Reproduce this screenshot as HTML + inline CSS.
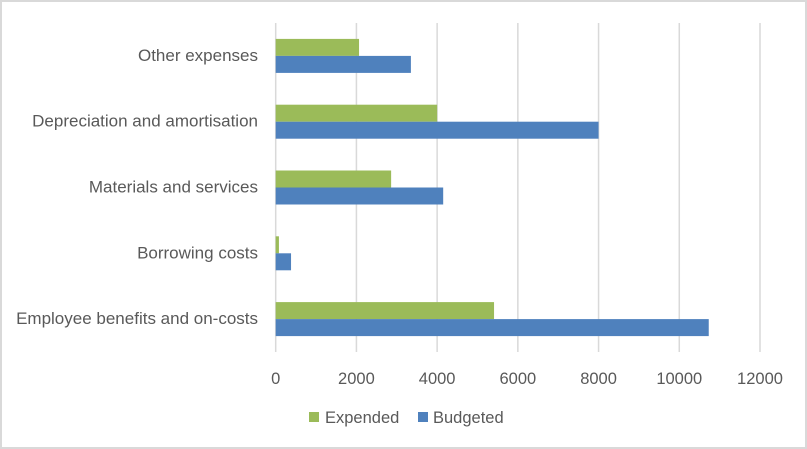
<!DOCTYPE html>
<html><head><meta charset="utf-8"><style>
body{margin:0;background:#fff}
#c{position:relative;width:807px;height:449px;box-sizing:border-box;border:2px solid #d9d9d9;background:#fff;overflow:hidden}
svg text{font-family:"Liberation Sans",sans-serif;fill:#595959;font-size:16.5px}
svg text.cat{font-size:17px}
</style></head><body>
<div id="c">
<svg id="s" width="807" height="449" style="position:absolute;left:-2px;top:-2px"></svg>
</div>
<script>
const categories=["Employee benefits and on-costs","Borrowing costs","Materials and services","Depreciation and amortisation","Other expenses"];
const expended=[5410,80,2860,4000,2065];
const budgeted=[10730,380,4150,8000,3350];
const ticks=[0,2000,4000,6000,8000,10000,12000];
const NS="http://www.w3.org/2000/svg";
const svgEl=document.getElementById('s');
const x0=275.7,x1=760,yTop=23,yBot=352,xmax=12000;
const xs=v=>x0+(x1-x0)*v/xmax;
const band=(yBot-yTop)/categories.length;
const yc=i=>yBot-band*(i+0.5);
function mk(t,a){const e=document.createElementNS(NS,t);for(const k in a)e.setAttribute(k,a[k]);svgEl.appendChild(e);return e;}
ticks.forEach((t)=>{
 const g=mk('line',{x1:xs(t),x2:xs(t),y1:yTop,y2:yBot,stroke:'#d9d9d9','stroke-width':1.5});
 
 
 const l=mk('text',{x:xs(t),y:384,'text-anchor':'middle'});l.textContent=t;
 
 
});
const bh=17;
categories.forEach((c,i)=>{
 const y=yc(i);
 const l=mk('text',{x:258,y:y+5,'text-anchor':'end','class':'cat'});l.textContent=c;
 
 
 const g=mk('rect',{x:x0,y:y-bh,width:xs(expended[i])-x0,height:bh,fill:'#9bbb59'});
 
 
 const b=mk('rect',{x:x0,y:y,width:xs(budgeted[i])-x0,height:bh,fill:'#4f81bd'});
 
 
});
let r=mk('rect',{x:309,y:412,width:10,height:10,fill:'#9bbb59'});


let tx=mk('text',{x:325,y:423});tx.textContent='Expended';


r=mk('rect',{x:418,y:412,width:10,height:10,fill:'#4f81bd'});


tx=mk('text',{x:433,y:423});tx.textContent='Budgeted';


</script>
</body></html>
